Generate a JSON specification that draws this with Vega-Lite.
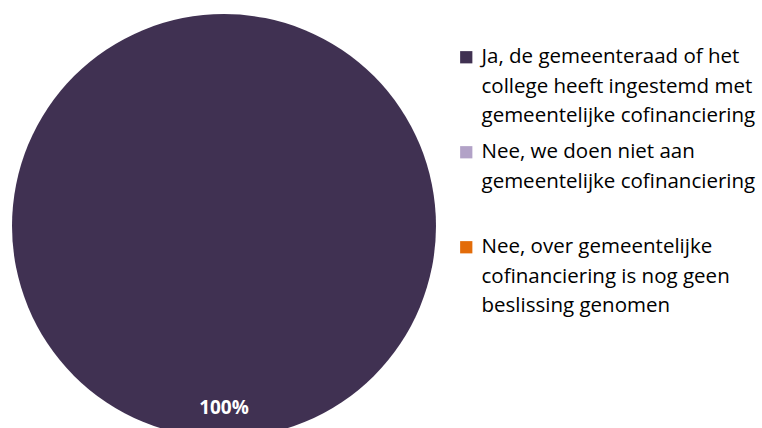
{
  "$schema": "https://vega.github.io/schema/vega-lite/v6.json",
  "width": 448,
  "height": 452,
  "padding": 0,
  "autosize": {"type": "pad"},
  "background": "white",
  "data": {"values": [
    {"antwoord": "Ja, de gemeenteraad of het|college heeft ingestemd met|gemeentelijke cofinanciering", "percentage": 100, "label": "100%"},
    {"antwoord": "Nee, we doen niet aan|gemeentelijke cofinanciering| ", "percentage": 0, "label": ""},
    {"antwoord": "Nee, over gemeentelijke|cofinanciering is nog geen|beslissing genomen", "percentage": 0, "label": ""}
  ]},
  "encoding": {
    "theta": {"field": "percentage", "type": "quantitative", "stack": true},
    "order": {"field": "percentage", "type": "quantitative", "sort": "descending"}
  },
  "layer": [
    {
      "mark": {"type": "arc", "outerRadius": 212},
      "encoding": {
        "color": {
          "field": "antwoord", "type": "nominal",
          "scale": {
            "domain": [
              "Ja, de gemeenteraad of het|college heeft ingestemd met|gemeentelijke cofinanciering",
              "Nee, we doen niet aan|gemeentelijke cofinanciering| ",
              "Nee, over gemeentelijke|cofinanciering is nog geen|beslissing genomen"
            ],
            "range": ["#403152", "#b2a2c7", "#e36c09"]
          },
          "legend": {
            "title": null,
            "orient": "none",
            "legendX": 456,
            "legendY": 47,
            "symbolType": "square",
            "symbolSize": 150,
            "symbolStrokeWidth": 0,
            "labelExpr": "split(datum.label, '|')",
            "labelFont": "Open Sans",
            "labelFontSize": 20.5,
            "labelColor": "#000000",
            "labelLimit": 400,
            "labelOffset": 5,
            "rowPadding": 15
          }
        }
      }
    },
    {
      "transform": [{"filter": "datum.percentage > 0"}],
      "mark": {"type": "text", "radius": 182, "font": "Open Sans", "fontSize": 19, "fontWeight": "bold", "color": "white"},
      "encoding": {"text": {"field": "label"}}
    }
  ],
  "config": {
    "view": {"stroke": null},
    "style": {"guide-label": {"lineHeight": 29.5}}
  }
}
